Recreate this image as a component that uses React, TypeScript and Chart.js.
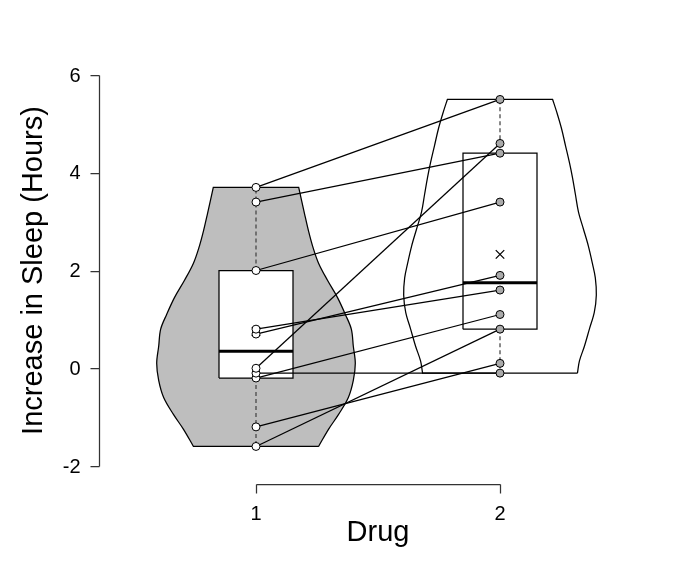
import React, { useEffect, useRef } from "react";
import { Chart, registerables } from "chart.js";

Chart.register(...registerables);

// ---- data ----
const drugLabels = ["1", "2"];
const drug1 = [0.7, -1.6, -0.2, -1.2, -0.1, 3.4, 3.7, 0.8, 0.0, 2.0];
const drug2 = [1.9, 0.8, 1.1, 0.1, -0.1, 4.4, 5.5, 1.6, 4.6, 3.4];
const boxMin = [-1.6, -0.1];
const boxQ1 = [-0.2, 0.8];
const boxMedian = [0.35, 1.75];
const boxQ3 = [2.0, 4.4];
const boxMax = [3.7, 5.5];
const groupMeans = [0.75, 2.33];
const violin1Y = [3.7, 3.15, 2.8, 2.5, 2.15, 1.8, 1.45, 1.1, 0.8, 0.45, 0.1, -0.25, -0.6, -0.95, -1.25, -1.6];
const violin1Density = [0.43, 0.49, 0.53, 0.57, 0.63, 0.72, 0.82, 0.9, 0.96, 0.98, 1.0, 0.98, 0.93, 0.83, 0.73, 0.63];
const violin2Y = [5.5, 5.25, 4.9, 4.55, 4.2, 3.9, 3.55, 3.2, 2.85, 2.5, 2.15, 1.85, 1.5, 1.15, 0.8, 0.45, 0.15, -0.1];
const violin2Density = [0.53, 0.57, 0.62, 0.66, 0.7, 0.73, 0.76, 0.79, 0.84, 0.89, 0.93, 0.96, 0.97, 0.95, 0.9, 0.85, 0.8, 0.78];
const yTicks = [-2, 0, 2, 4, 6];
const xTicks = [1, 2];
const yTitle = "Increase in Sleep (Hours)";
const xTitle = "Drug";

// ---- layout / style constants ----
const X_MIN = 1 - 156 / 244;
const X_MAX = 2.6;
const VIOLIN_HALF = 99.3 / 244;
const BOX_HALF = 37 / 244;
const LW = 1.25;
const FONT = '"Liberation Sans", Arial, Helvetica, sans-serif';

type P = { x: number; y: number };

function violinOutline(c: number, ys: number[], ds: number[]): P[] {
  const n = ys.length;
  const pts: P[] = [];
  for (let i = n - 1; i >= 0; i--) {
    const p = { x: c + ds[i] * VIOLIN_HALF, y: ys[i] };
    pts.push(p);
    if (i === n - 1 || i === 0) pts.push({ ...p });
  }
  for (let i = 0; i < n; i++) {
    const p = { x: c - ds[i] * VIOLIN_HALF, y: ys[i] };
    pts.push(p);
    if (i === 0 || i === n - 1) pts.push({ ...p });
  }
  pts.push({ x: c + ds[n - 1] * VIOLIN_HALF, y: ys[n - 1] });
  return pts;
}

function boxOutline(c: number, lo: number, hi: number): P[] {
  return [
    { x: c - BOX_HALF, y: lo },
    { x: c + BOX_HALF, y: lo },
    { x: c + BOX_HALF, y: hi },
    { x: c - BOX_HALF, y: hi },
    { x: c - BOX_HALF, y: lo },
  ];
}

const axesPlugin = {
  id: "rAxes",
  afterDraw(chart: any) {
    const { ctx, chartArea } = chart;
    const xs = chart.scales.x;
    const ys = chart.scales.y;
    ctx.save();
    ctx.strokeStyle = "#333";
    ctx.lineWidth = LW;
    ctx.fillStyle = "#000";
    // y axis
    const ax = Math.round(chartArea.left) - 0.5;
    ctx.beginPath();
    ctx.moveTo(ax, Math.round(ys.getPixelForValue(yTicks[0])) + 0.5);
    ctx.lineTo(ax, Math.round(ys.getPixelForValue(yTicks[yTicks.length - 1])) + 0.5);
    yTicks.forEach((t) => {
      const py = Math.round(ys.getPixelForValue(t)) + 0.5;
      ctx.moveTo(ax, py);
      ctx.lineTo(ax - 9, py);
    });
    ctx.stroke();
    ctx.font = `20px ${FONT}`;
    ctx.textAlign = "right";
    ctx.textBaseline = "middle";
    yTicks.forEach((t) => {
      ctx.fillText(String(t), ax - 19, ys.getPixelForValue(t) + 1);
    });
    // x axis
    const ay = Math.round(chartArea.bottom + 18) + 0.5;
    ctx.beginPath();
    ctx.moveTo(Math.round(xs.getPixelForValue(xTicks[0])) + 0.5, ay);
    ctx.lineTo(Math.round(xs.getPixelForValue(xTicks[xTicks.length - 1])) + 0.5, ay);
    xTicks.forEach((t) => {
      const px = Math.round(xs.getPixelForValue(t)) + 0.5;
      ctx.moveTo(px, ay);
      ctx.lineTo(px, ay + 9);
    });
    ctx.stroke();
    ctx.textAlign = "center";
    ctx.textBaseline = "alphabetic";
    xTicks.forEach((t, i) => {
      ctx.fillText(drugLabels[i], xs.getPixelForValue(t), ay + 35);
    });
    // titles
    ctx.font = `29px ${FONT}`;
    const midX = (xs.getPixelForValue(xTicks[0]) + xs.getPixelForValue(xTicks[1])) / 2;
    ctx.fillText(xTitle, midX, ay + 56);
    ctx.save();
    ctx.translate(42, (chartArea.top + chartArea.bottom) / 2);
    ctx.rotate(-Math.PI / 2);
    ctx.fillText(yTitle, 0, 0);
    ctx.restore();
    ctx.restore();
  },
};

export default function App() {
  const ref = useRef<HTMLCanvasElement | null>(null);

  useEffect(() => {
    if (!ref.current) return;
    const datasets: any[] = [];
    const base = { pointRadius: 0, pointHoverRadius: 0, tension: 0, clip: false };

    // violins
    datasets.push({
      ...base,
      data: violinOutline(1, violin1Y, violin1Density),
      borderColor: "#000",
      borderWidth: LW,
      backgroundColor: "#bebebe",
      fill: "shape",
      tension: 0.35,
      order: 20,
    });
    datasets.push({
      ...base,
      data: violinOutline(2, violin2Y, violin2Density),
      borderColor: "#000",
      borderWidth: LW,
      backgroundColor: "#ffffff",
      fill: "shape",
      tension: 0.35,
      order: 20,
    });

    [1, 2].forEach((c, i) => {
      // box
      datasets.push({
        ...base,
        data: boxOutline(c, boxQ1[i], boxQ3[i]),
        borderColor: "#000",
        borderWidth: LW,
        backgroundColor: "#ffffff",
        fill: "shape",
        order: 18,
      });
      // median
      datasets.push({
        ...base,
        data: [
          { x: c - BOX_HALF, y: boxMedian[i] },
          { x: c + BOX_HALF, y: boxMedian[i] },
        ],
        borderColor: "#000",
        borderWidth: 3,
        borderCapStyle: "butt",
        fill: false,
        order: 17,
      });
      // whiskers
      datasets.push({
        ...base,
        data: [
          { x: c, y: boxQ3[i] },
          { x: c, y: boxMax[i] },
        ],
        borderColor: "#444",
        borderWidth: LW,
        borderDash: [4, 3],
        fill: false,
        order: 16,
      });
      datasets.push({
        ...base,
        data: [
          { x: c, y: boxQ1[i] },
          { x: c, y: boxMin[i] },
        ],
        borderColor: "#444",
        borderWidth: LW,
        borderDash: [4, 3],
        fill: false,
        order: 16,
      });
    });

    // means
    datasets.push({
      data: [
        { x: 1, y: groupMeans[0] },
        { x: 2, y: groupMeans[1] },
      ],
      showLine: false,
      pointStyle: "crossRot",
      pointRadius: 6,
      pointBorderColor: "#000",
      pointBorderWidth: LW,
      fill: false,
      clip: false,
      order: 15,
    });

    // paired lines
    drug1.forEach((v, i) => {
      datasets.push({
        ...base,
        data: [
          { x: 1, y: v },
          { x: 2, y: drug2[i] },
        ],
        borderColor: "#000",
        borderWidth: LW,
        fill: false,
        order: 10,
      });
    });

    // points
    datasets.push({
      data: drug2.map((v) => ({ x: 2, y: v })),
      showLine: false,
      pointRadius: 4,
      pointBackgroundColor: "#aaaaaa",
      pointBorderColor: "#000",
      pointBorderWidth: 1,
      fill: false,
      clip: false,
      order: 5,
    });
    datasets.push({
      data: drug1.map((v) => ({ x: 1, y: v })),
      showLine: false,
      pointRadius: 4,
      pointBackgroundColor: "#ffffff",
      pointBorderColor: "#000",
      pointBorderWidth: 1,
      fill: false,
      clip: false,
      order: 5,
    });

    const chart = new Chart(ref.current, {
      type: "line",
      data: { datasets },
      options: {
        responsive: false,
        animation: false,
        events: [],
        layout: {
          autoPadding: false,
          padding: { left: 100, right: 695 - (500 + 0.6 * 244), top: 75, bottom: 118 },
        },
        scales: {
          x: { type: "linear", min: X_MIN, max: X_MAX, display: false },
          y: { type: "linear", min: -2, max: 6, display: false },
        },
        plugins: {
          legend: { display: false },
          tooltip: { enabled: false },
        },
      },
      plugins: [axesPlugin],
    } as any);
    return () => chart.destroy();
  }, []);

  return (
    <div style={{ position: "fixed", left: 0, top: 0, width: 695, height: 584, background: "#fff" }}>
      <canvas ref={ref} width={695} height={584} style={{ width: 695, height: 584 }} />
    </div>
  );
}
